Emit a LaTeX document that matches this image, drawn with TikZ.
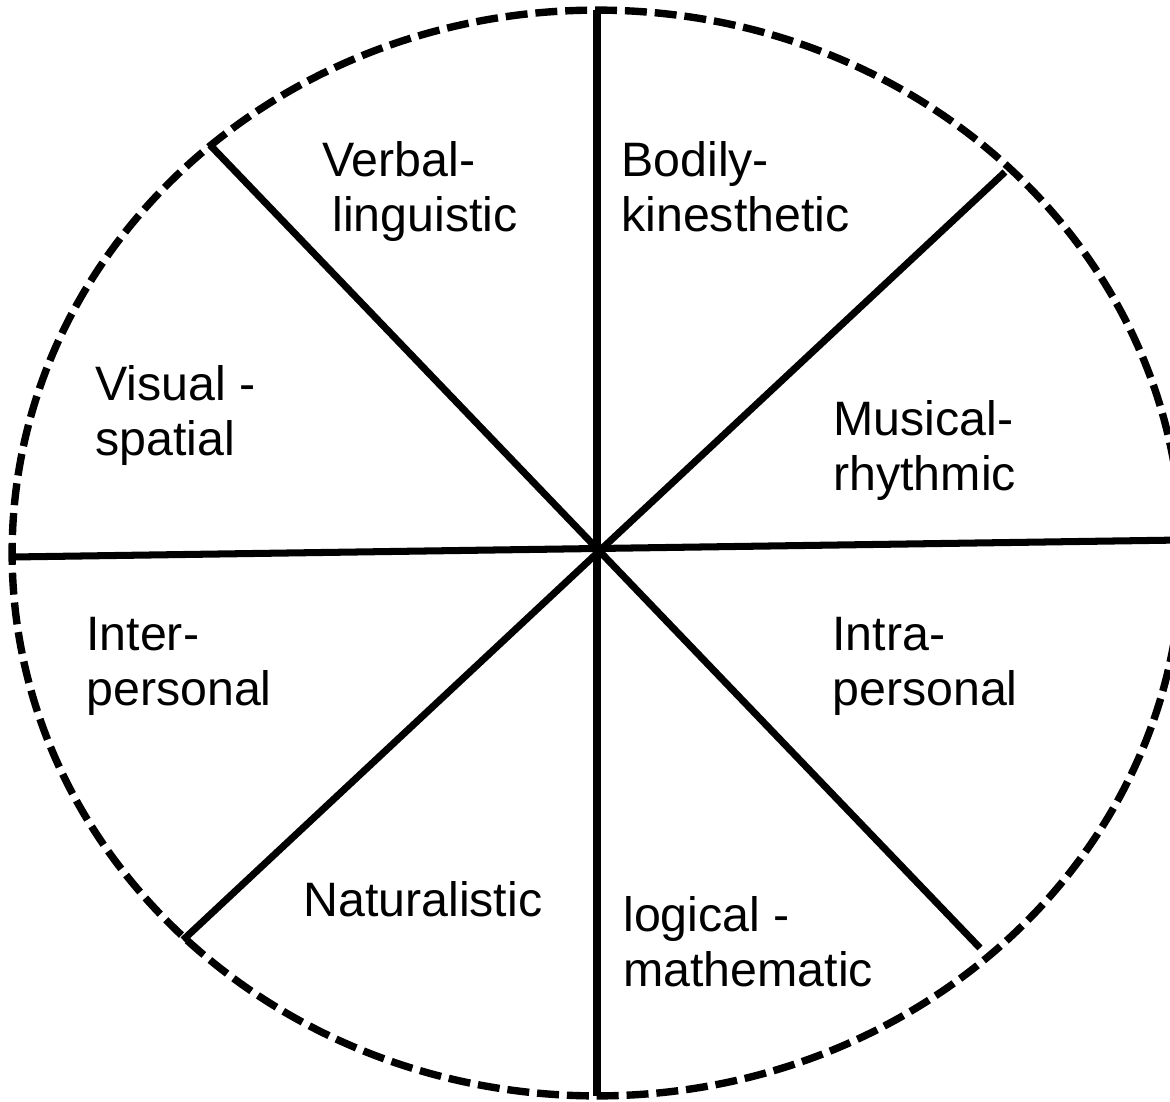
\documentclass[tikz,border=0pt]{standalone}
\usepackage{fontspec}
\setmainfont{Liberation Sans}

\begin{document}
\begin{tikzpicture}[x=0.02cm, y=-0.02cm,
  spoke/.style={line width=4pt},
  rim/.style={line width=4.2pt, dash pattern=on 12.5pt off 4.5pt},
  lbl/.style={anchor=base west, inner sep=0pt, align=left,
    font=\fontsize{27.5pt}{31.3pt}\selectfont}]
\useasboundingbox (0,0) rectangle (1170,1102);
\clip (0,0) rectangle (1170,1102);
%\draw[help lines, step=50] (0,0) grid (1170,1102);
\coordinate (mid) at (597,553);
\draw [rim] (mid) ellipse [x radius=11.7cm, y radius=10.86cm];

% spokes, rim to rim
\coordinate (top) at (597,10);
\coordinate (bot) at (597,1096);
\coordinate (lft) at (12,557);
\coordinate (rgt) at (1182,540);
\coordinate (ul) at (210,145);
\coordinate (lr) at (980,948);
\coordinate (ur) at (1005,172);
\coordinate (ll) at (183,940);
\draw [spoke] (top) -- (bot);
\draw [spoke] (lft) -- (rgt);
\draw [spoke] (ul) -- (lr);
\draw [spoke] (ur) -- (ll);

% base = baseline of the last line
\node (verbal) [lbl] at (322,231) {Verbal-\\\hspace*{0.2cm}linguistic};
\node (bodily) [lbl] at (621,231) {Bodily-\\kinesthetic};
\node (visual) [lbl] at (95,455) {Visual -\\spatial};
\node (musical) [lbl] at (833,490) {Musical-\\rhythmic};
\node (inter) [lbl] at (86,705) {Inter-\\personal};
\node (intra) [lbl] at (832,705) {Intra-\\personal};
\node (natural) [lbl] at (303,916) {Naturalistic};
\node (logical) [lbl] at (623,986) {logical -\\mathematic};
\end{tikzpicture}
\end{document}
